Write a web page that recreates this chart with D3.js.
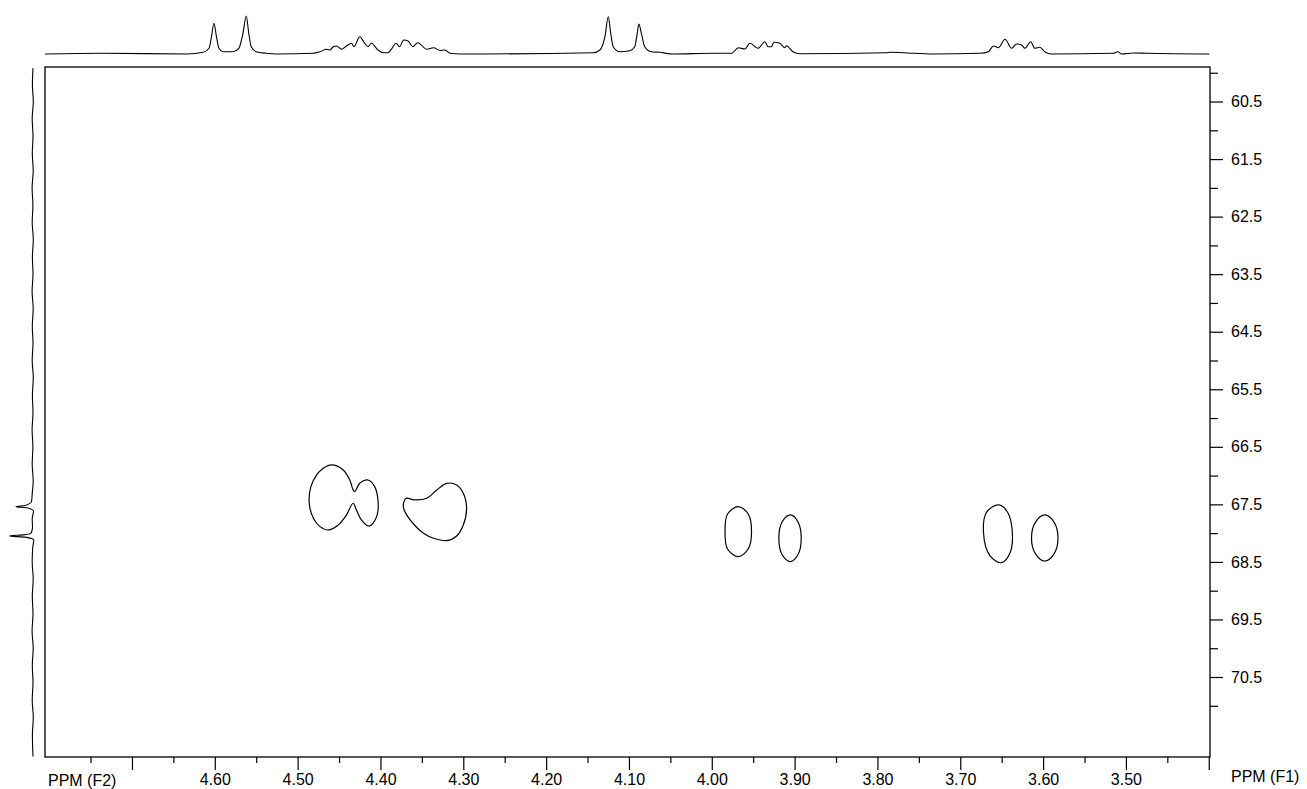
<!DOCTYPE html>
<meta charset="utf-8">
<body style="margin:0;background:#fff">
<script src="https://d3js.org/d3.v7.min.js"></script>
<script>
var width = 1307, height = 789;

// axis ticks (ppm)
var f2Major = [4.70, 4.60, 4.50, 4.40, 4.30, 4.20, 4.10, 4.00, 3.90, 3.80, 3.70, 3.60, 3.50, 3.40];
var f2Minor = [4.75, 4.65, 4.55, 4.45, 4.35, 4.25, 4.15, 4.05, 3.95, 3.85, 3.75, 3.65, 3.55, 3.45];
var f2Labels = [4.60, 4.50, 4.40, 4.30, 4.20, 4.10, 4.00, 3.90, 3.80, 3.70, 3.60, 3.50];
var f1Major = [60.5, 61.5, 62.5, 63.5, 64.5, 65.5, 66.5, 67.5, 68.5, 69.5, 70.5];
var f1Minor = [60.0, 61.0, 62.0, 63.0, 64.0, 65.0, 66.0, 67.0, 68.0, 69.0, 70.0, 71.0];

// 1H projection on top: [ppm, height]
var topTrace = [
  [4.805,0],[4.735,0.7],[4.634,0],[4.614,1.7],[4.607,5.7],[4.604,17.3],[4.601,30.7],[4.598,17.3],
  [4.595,5.7],[4.590,2.3],[4.578,2.3],[4.571,5.7],[4.566,20.7],[4.562,38],[4.559,20.7],[4.556,7.3],
  [4.550,2.3],[4.538,0.7],[4.526,0],[4.481,0.7],[4.473,2.3],[4.465,4.7],[4.461,4],[4.457,7.3],
  [4.453,8],[4.447,4.7],[4.441,8],[4.435,10.7],[4.432,7.3],[4.425,17.3],[4.419,10.7],[4.415,7.3],
  [4.411,10.7],[4.403,4],[4.397,1.3],[4.391,1.3],[4.387,4.7],[4.381,10.7],[4.377,7.3],[4.372,14],
  [4.367,13.3],[4.361,7.3],[4.355,11.3],[4.344,4.7],[4.336,6.3],[4.328,3.5],[4.322,4],[4.316,0.7],
  [4.304,0],[4.143,1.3],[4.135,4],[4.129,17.3],[4.125,37.3],[4.122,20.7],[4.119,7.3],[4.111,2.3],
  [4.099,3.3],[4.093,7.3],[4.090,20.7],[4.088,30],[4.085,20.7],[4.081,7.3],[4.073,2.3],[4.063,1.7],
  [4.047,0],[3.998,0.7],[3.976,0.7],[3.968,6.3],[3.960,5],[3.954,10.7],[3.944,5.7],[3.936,12.3],
  [3.932,7.3],[3.928,7.3],[3.925,11.7],[3.918,10.7],[3.912,6.3],[3.910,8.3],[3.902,2.3],[3.894,0.3],
  [3.789,1.3],[3.785,1.7],[3.769,1.3],[3.733,0],[3.676,0.7],[3.666,2.3],[3.660,8],[3.654,6.3],
  [3.646,14.7],[3.638,5.7],[3.632,10],[3.626,9],[3.622,5.7],[3.615,12.3],[3.610,5.7],[3.604,6.7],
  [3.598,2.3],[3.590,0],[3.515,0.7],[3.510,2.3],[3.505,0],[3.491,1],[3.475,0.7],[3.399,0]
];

// 13C projection on the left: [ppm, height]
var sideTrace = [
  [59.92,0],[60.2,0.6],[60.5,-0.3],[60.8,0.8],[61.1,0],[61.4,0.7],[61.7,-0.2],[62.0,0.9],[62.3,0.1],
  [62.6,0.8],[62.9,-0.3],[63.2,0.6],[63.5,0],[63.8,0.9],[64.1,-0.2],[64.4,0.7],[64.7,0],[65.0,0.8],
  [65.3,-0.3],[65.6,0.6],[65.9,0],[66.2,0.9],[66.5,0.1],[66.8,0.8],[67.1,-0.2],[67.3,0.7],[67.45,1.5],
  [67.52,8],[67.54,17],[67.56,6],[67.62,-0.5],[67.75,0.8],[67.9,0.5],[68.0,2],[68.03,10],[68.05,23.7],
  [68.07,8],[68.12,-0.8],[68.25,0.3],[68.5,0.8],[68.8,-0.2],[69.1,0.7],[69.4,0],[69.7,0.9],[70.0,-0.2],
  [70.3,0.7],[70.6,0],[70.9,0.8],[71.2,-0.3],[71.5,0.6],[71.88,0]
];

// contour outlines: [F2 ppm, F1 ppm]
var contourA = [[4.459,66.815],[4.445,66.902],[4.437,67.076],[4.433,67.25],[4.431,67.279],[4.425,67.134],
  [4.415,67.076],[4.407,67.192],[4.403,67.423],[4.404,67.684],[4.411,67.858],[4.415,67.875],[4.423,67.771],
  [4.429,67.597],[4.433,67.481],[4.441,67.684],[4.451,67.858],[4.463,67.945],[4.473,67.887],[4.481,67.742],
  [4.486,67.481],[4.484,67.192],[4.477,66.989],[4.469,66.873]];
var contourB = [[4.369,67.394],[4.359,67.423],[4.344,67.394],[4.332,67.25],[4.320,67.134],[4.308,67.163],
  [4.300,67.307],[4.296,67.568],[4.300,67.858],[4.308,68.049],[4.320,68.13],[4.336,68.089],[4.348,68.002],
  [4.359,67.858],[4.367,67.713],[4.372,67.568],[4.372,67.47]];
var contourC = [[3.968,67.54],[3.956,67.667],[3.952,67.974],[3.956,68.275],[3.968,68.409],[3.981,68.275],
  [3.984,67.974],[3.981,67.667]];
var contourD = [[3.905,67.684],[3.896,67.802],[3.892,68.089],[3.896,68.376],[3.905,68.494],[3.915,68.376],
  [3.919,68.089],[3.915,67.802]];
var contourE = [[3.654,67.51],[3.643,67.632],[3.637,68.032],[3.640,68.345],[3.650,68.513],[3.664,68.397],
  [3.672,67.98],[3.668,67.632]];
var contourF = [[3.598,67.684],[3.587,67.804],[3.582,68.084],[3.587,68.364],[3.598,68.484],[3.609,68.364],
  [3.614,68.084],[3.609,67.804]];
var contours = [contourA, contourB, contourC, contourD, contourE, contourF];

// plot frame (window.top is read-only, so no bare "top" here)
var frameL = 45, frameR = 1210, frameT = 67, frameB = 757;

var x = d3.scaleLinear().domain([4.805, 3.3985]).range([frameL, frameR]);
var y = d3.scaleLinear().domain([59.9, 71.89]).range([frameT, frameB]);
var hTop = d3.scaleLinear().domain([0, 38]).range([54, 16]);
var hSide = d3.scaleLinear().domain([0, 24]).range([33, 9]);

var svg = d3.select("body").append("svg")
    .attr("width", width)
    .attr("height", height)
    .style("font-family", "Liberation Sans, Arial, sans-serif");

// frame
svg.append("rect")
    .attr("x", frameL).attr("y", frameT)
    .attr("width", frameR - frameL).attr("height", frameB - frameT)
    .attr("fill", "none").attr("stroke", "#000").attr("stroke-width", 1.3);

function styleAxis(g) {
  g.select(".domain").remove();
  g.selectAll("line").attr("stroke", "#000").attr("stroke-width", 1.2);
  g.selectAll("text").attr("fill", "#000").style("font-size", "16px")
    .style("font-family", "Liberation Sans, Arial, sans-serif");
}

// bottom axis
svg.append("g").attr("transform", "translate(0," + frameB + ")")
    .call(d3.axisBottom(x).tickValues(f2Minor).tickSize(6).tickFormat(""))
    .call(styleAxis);
svg.append("g").attr("transform", "translate(0," + frameB + ")")
    .call(d3.axisBottom(x).tickValues(f2Major).tickSize(13).tickPadding(4)
      .tickFormat(function(d) { return f2Labels.indexOf(d) >= 0 ? d3.format(".2f")(d) : ""; }))
    .call(styleAxis);

// right axis
svg.append("g").attr("transform", "translate(" + frameR + ",0)")
    .call(d3.axisRight(y).tickValues(f1Minor).tickSize(8).tickFormat(""))
    .call(styleAxis);
svg.append("g").attr("transform", "translate(" + frameR + ",0)")
    .call(d3.axisRight(y).tickValues(f1Major).tickSize(13).tickPadding(8).tickFormat(d3.format(".1f")))
    .call(styleAxis);

svg.append("text").attr("x", 48).attr("y", 786).style("font-size", "16px").text("PPM (F2)");
svg.append("text").attr("x", 1231).attr("y", 782).style("font-size", "16px").text("PPM (F1)");

// projections
var topLine = d3.line()
    .x(function(d) { return x(d[0]); })
    .y(function(d) { return hTop(d[1]); })
    .curve(d3.curveMonotoneX);
svg.append("path").datum(topTrace).attr("d", topLine)
    .attr("fill", "none").attr("stroke", "#000").attr("stroke-width", 1.1);

var sideLine = d3.line()
    .x(function(d) { return hSide(d[1]); })
    .y(function(d) { return y(d[0]); })
    .curve(d3.curveMonotoneY);
svg.append("path").datum(sideTrace).attr("d", sideLine)
    .attr("fill", "none").attr("stroke", "#000").attr("stroke-width", 1.1);

// contours
var contourLine = d3.line()
    .x(function(d) { return x(d[0]); })
    .y(function(d) { return y(d[1]); })
    .curve(d3.curveCatmullRomClosed.alpha(0.5));
svg.append("g").selectAll("path")
    .data(contours)
    .enter().append("path")
    .attr("d", contourLine)
    .attr("fill", "none").attr("stroke", "#000").attr("stroke-width", 1.2);
</script>
</body>
